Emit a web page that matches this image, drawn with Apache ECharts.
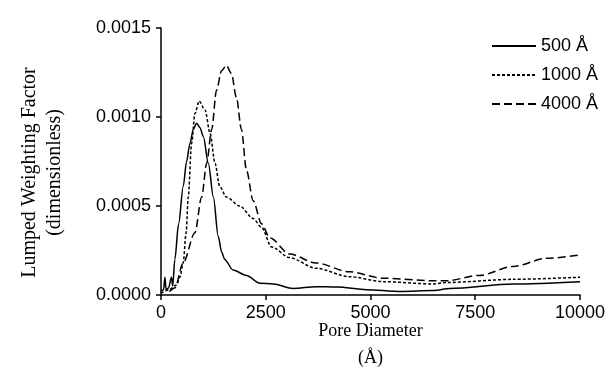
<!DOCTYPE html>
<html>
<head>
<meta charset="utf-8">
<script src="https://cdn.jsdelivr.net/npm/echarts@6/dist/echarts.min.js"></script>
<style>html,body{margin:0;padding:0;background:#fff}#c{width:608px;height:386px}</style>
</head>
<body>
<div id="c"></div>
<script>
const seriesNames = ['500 Å', '1000 Å', '4000 Å'];
const xTicks = [0, 2500, 5000, 7500, 10000];
const yTicks = [0, 0.0005, 0.0010, 0.0015];

const d500 = [[0,0.00002],[60,0.00003],[95,0.0001],[120,0.00003],[180,0.00004],[250,0.0001],[280,0.00005],[330,0.0002],[420,0.0004],[530,0.00061],[610,0.00075],[690,0.00085],[770,0.00093],[850,0.000965],[930,0.00094],[1010,0.00089],[1130,0.00074],[1250,0.00055],[1365,0.00033],[1450,0.00024],[1520,0.0002],[1720,0.00014],[2040,0.00011],[2360,0.000066],[2680,0.000062],[3150,0.000037],[3700,0.000047],[4200,0.000045],[4900,0.00003],[5700,0.00002],[6500,0.000025],[6900,0.000037],[8400,0.000062],[10000,0.000075]];
const d1000 = [[0,0.00001],[200,0.00003],[370,0.000056],[450,0.0001],[530,0.00018],[600,0.00035],[650,0.00055],[730,0.00085],[810,0.00102],[910,0.00109],[1050,0.00104],[1170,0.00091],[1290,0.00074],[1400,0.00061],[1560,0.00055],[1880,0.0005],[2200,0.00043],[2400,0.00038],[2640,0.00027],[3070,0.00021],[3700,0.00015],[4500,0.000103],[5300,0.000075],[6500,0.000062],[6800,0.00007],[8400,0.000088],[10000,0.0001]];
const d4000 = [[200,0.00002],[330,0.00004],[530,0.00018],[810,0.00035],[970,0.00055],[1090,0.00074],[1210,0.00093],[1325,0.00115],[1445,0.00126],[1560,0.00129],[1680,0.001245],[1800,0.00111],[1920,0.00093],[2040,0.0007],[2200,0.00053],[2400,0.0004],[2600,0.00032],[3070,0.00023],[3700,0.00018],[4500,0.00013],[5300,0.000094],[6500,0.00008],[6800,0.00008],[7600,0.00011],[8400,0.00016],[9200,0.000206],[10000,0.000225]];

const chart = echarts.init(document.getElementById('c'), null, {renderer: 'canvas'});
const axisCommon = {
  axisLine: {show: true, lineStyle: {color: '#000', width: 1.5}},
  axisTick: {show: true, inside: false, length: 5, lineStyle: {color: '#000', width: 1.5}},
  splitLine: {show: false},
  axisLabel: {color: '#000', fontFamily: 'Liberation Sans, Arial, sans-serif', fontSize: 18}
};
const mk = (name, data, type) => ({
  name, type: 'line', data, showSymbol: false, symbol: 'none',
  smooth: 0.3, smoothMonotone: 'x',
  lineStyle: {color: '#000', width: 1.5, type},
  itemStyle: {color: '#000'}
});
chart.setOption({
  animation: false,
  backgroundColor: '#fff',
  grid: {left: 161, right: 27, top: 28, bottom: 91},
  legend: {
    orient: 'vertical', left: 491, top: 37, padding: 0,
    itemWidth: 44, itemHeight: 14, itemGap: 11,
    data: seriesNames,
    itemStyle: {opacity: 0},
    textStyle: {color: '#000', fontFamily: 'Liberation Sans, Arial, sans-serif', fontSize: 18, lineHeight: 18}
  },
  xAxis: Object.assign({}, axisCommon, {
    type: 'value', min: xTicks[0], max: xTicks[xTicks.length-1], interval: 2500,
    axisLabel: Object.assign({}, axisCommon.axisLabel, {margin: 9, formatter: v => String(v)}),
    name: 'Pore Diameter\n(Å)', nameLocation: 'middle', nameGap: 23, nameMoveOverlap: false,
    nameTextStyle: {color: '#000', fontFamily: 'Liberation Serif, Times New Roman, serif', fontSize: 18, lineHeight: 27}
  }),
  yAxis: Object.assign({}, axisCommon, {
    type: 'value', min: yTicks[0], max: yTicks[yTicks.length-1], interval: 0.0005,
    axisLabel: Object.assign({}, axisCommon.axisLabel, {margin: 10, formatter: v => v.toFixed(4)}),
    name: 'Lumped Weighting Factor\n(dimensionless)', nameLocation: 'middle', nameGap: 94, nameMoveOverlap: false,
    nameTextStyle: {color: '#000', fontFamily: 'Liberation Serif, Times New Roman, serif', fontSize: 20, lineHeight: 25, padding: [0, 22, 0, 0]}
  }),
  series: [
    mk(seriesNames[0], d500, 'solid'),
    mk(seriesNames[1], d1000, [3, 2]),
    mk(seriesNames[2], d4000, [8, 4])
  ]
});
</script>
</body>
</html>
